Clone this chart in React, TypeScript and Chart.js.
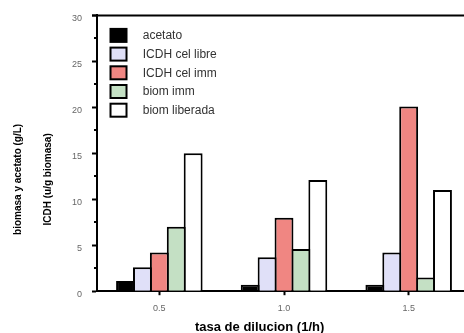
import React, { useEffect, useRef } from "react";
import { Chart, registerables } from "chart.js";

Chart.register(...registerables);

const categories = ["0.5", "1.0", "1.5"];
const seriesLabels = ["acetato", "ICDH cel libre", "ICDH cel imm", "biom imm", "biom liberada"];
const acetato = [1.1, 0.7, 0.7];
const icdhLibre = [2.6, 3.7, 4.2];
const icdhImm = [4.2, 8.0, 20.1];
const biomImm = [7.0, 4.6, 1.5];
const biomLiberada = [15.0, 12.1, 11.0];
const seriesColors = ["#000000", "#E0E0F8", "#F08682", "#C4E0C4", "#FFFFFF"];
const yMin = 0;
const yMax = 30;
const yStep = 5;
const minorTickValues = [2.5, 7.5, 12.5, 17.5, 22.5, 27.5];
const xTitle = "tasa de dilucion (1/h)";
const yTitleLines = ["biomasa y acetato (g/L)", "ICDH (u/g biomasa)"];

const FONT = "'Liberation Sans', Arial, Helvetica, sans-serif";

const decor = {
  id: "decor",
  afterDraw(chart: any) {
    const { ctx, chartArea: a, scales } = chart;
    const y = scales.y;
    ctx.save();
    // top frame line
    ctx.strokeStyle = "#000";
    ctx.lineWidth = 2;
    ctx.beginPath();
    ctx.moveTo(a.left - 5, a.top);
    ctx.lineTo(chart.width, a.top);
    ctx.stroke();
    // minor ticks
    ctx.beginPath();
    for (const v of minorTickValues) {
      const py = Math.round(y.getPixelForValue(v));
      ctx.moveTo(a.left - 3, py);
      ctx.lineTo(a.left, py);
    }
    ctx.stroke();
    // legend
    const ds = chart.data.datasets;
    ctx.font = `12px ${FONT}`;
    ctx.textBaseline = "middle";
    ctx.textAlign = "left";
    for (let i = 0; i < ds.length; i++) {
      const bx = a.left + 13.5;
      const by = a.top + 13.5 + i * 18.7;
      ctx.fillStyle = ds[i].backgroundColor;
      ctx.fillRect(bx, by, 16, 13);
      ctx.lineWidth = 2;
      ctx.strokeStyle = "#000";
      ctx.strokeRect(bx, by, 16, 13);
      ctx.fillStyle = "#333";
      ctx.fillText(ds[i].label, a.left + 45.7, by + 7);
    }
    // x title
    ctx.fillStyle = "#000";
    ctx.font = `bold 13px ${FONT}`;
    ctx.textAlign = "center";
    ctx.fillText(xTitle, a.left + 162.6, a.bottom + 36);
    // y titles
    ctx.font = `bold 10px ${FONT}`;
    const offs = [-78.5, -49];
    for (let i = 0; i < yTitleLines.length; i++) {
      ctx.save();
      ctx.translate(a.left + offs[i], a.top + 164);
      ctx.rotate(-Math.PI / 2);
      ctx.fillText(yTitleLines[i], 0, 0);
      ctx.restore();
    }
    ctx.restore();
  },
};

export default function App() {
  const ref = useRef<HTMLCanvasElement>(null);
  useEffect(() => {
    if (!ref.current) return;
    const seriesData = [acetato, icdhLibre, icdhImm, biomImm, biomLiberada];
    const chart = new Chart(ref.current, {
      type: "bar",
      data: {
        labels: categories,
        datasets: seriesData.map((d, i) => ({
          label: seriesLabels[i],
          data: d,
          backgroundColor: seriesColors[i],
          borderColor: "#000",
          borderWidth: 2,
          barPercentage: 1.118,
          categoryPercentage: 0.678,
        })),
      },
      options: {
        responsive: false,
        animation: false,
        devicePixelRatio: 1,
        layout: { padding: { left: 62, top: 10, right: 1, bottom: 11 } },
        plugins: { legend: { display: false }, tooltip: { enabled: false } },
        scales: {
          x: {
            grid: {
              drawOnChartArea: false,
              drawTicks: true,
              tickLength: 4,
              tickWidth: 2,
              tickColor: "#000",
              offset: false,
            },
            border: { color: "#000", width: 2 },
            ticks: { color: "#666", font: { family: FONT, size: 9 }, padding: 8 },
          },
          y: {
            min: yMin,
            max: yMax,
            grid: {
              drawOnChartArea: false,
              drawTicks: true,
              tickLength: 5,
              tickWidth: 2,
              tickColor: "#000",
            },
            border: { color: "#000", width: 2 },
            ticks: {
              stepSize: yStep,
              color: "#666",
              font: { family: FONT, size: 9 },
              padding: 10,
              labelOffset: 3,
            },
          },
        },
      },
      plugins: [decor],
    });
    return () => chart.destroy();
  }, []);
  return (
    <div style={{ position: "fixed", left: 0, top: 0, width: 464, height: 333, overflow: "hidden", background: "#fff" }}>
      <canvas ref={ref} width={472} height={333} style={{ display: "block", width: 472, height: 333 }} />
    </div>
  );
}
